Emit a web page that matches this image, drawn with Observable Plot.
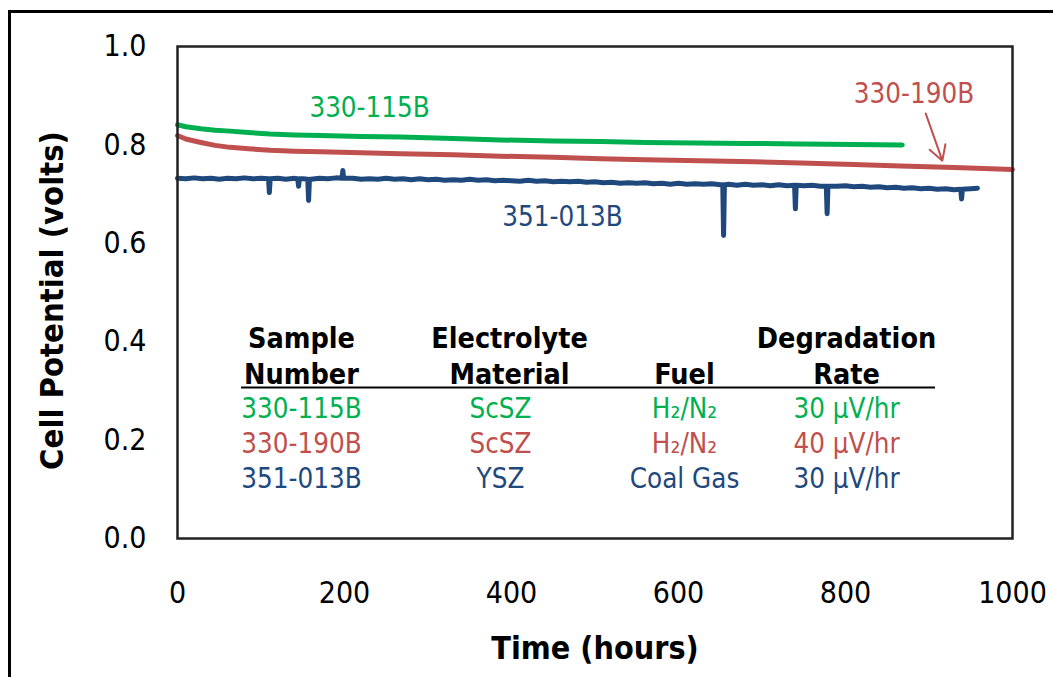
<!DOCTYPE html>
<html><head><meta charset="utf-8">
<script src="https://cdn.jsdelivr.net/npm/d3@7"></script>
<script src="https://cdn.jsdelivr.net/npm/@observablehq/plot@0.6"></script>
<style>
body{margin:0;background:#fff;overflow:hidden;}
#wrap{position:relative;width:1053px;height:677px;}
#border{position:absolute;left:8px;top:10px;width:1100px;height:800px;border:3px solid #000;pointer-events:none;}
</style></head>
<body><div id="wrap"><div id="border"></div></div>
<script>
const yTicks = [0, 0.2, 0.4, 0.6, 0.8, 1.0];
const xTicks = [0, 200, 400, 600, 800, 1000];

const greenHours = [0, 10, 28, 45, 63, 85, 111, 140, 171, 220, 267, 330, 387, 450, 507, 560, 620, 680, 746, 810, 868];
const greenVolts = [0.841, 0.837, 0.833, 0.830, 0.828, 0.825, 0.822, 0.820, 0.819, 0.817, 0.816, 0.813, 0.810, 0.808, 0.807, 0.805, 0.804, 0.803, 0.802, 0.801, 0.800];

const redHours = [0, 10, 28, 45, 63, 85, 111, 140, 171, 220, 267, 330, 387, 450, 507, 560, 626, 690, 746, 810, 866, 930, 1000];
const redVolts = [0.819, 0.812, 0.805, 0.799, 0.795, 0.792, 0.789, 0.787, 0.786, 0.784, 0.782, 0.780, 0.777, 0.775, 0.772, 0.770, 0.768, 0.766, 0.763, 0.760, 0.757, 0.754, 0.750];

const blueHours = [0,10,20,30,40,50,60,70,80,90,100,109,110,111,120,130,140,144,145,146,150,156,157,158,160,170,180,190,197,198,199,
  210,220,230,240,250,260,270,280,290,300,310,320,330,340,350,360,370,380,390,400,410,420,430,440,450,460,470,480,490,500,
  510,520,530,540,550,560,570,580,590,600,610,620,630,640,650,653,654,655,660,670,680,690,700,710,720,730,739,740,741,750,
  760,770,777,778,779,790,800,810,820,830,840,850,860,870,880,890,900,910,920,930,938,939,940,950,958];
const blueVolts = [0.732,0.731,0.733,0.731,0.732,0.730,0.732,0.731,0.733,0.731,0.732,0.731,0.703,0.731,0.732,0.730,0.732,0.731,0.716,0.731,0.731,0.730,0.687,0.730,0.730,0.732,0.731,0.733,0.732,0.748,0.732,
  0.732,0.730,0.731,0.730,0.732,0.730,0.731,0.729,0.731,0.729,0.730,0.728,0.729,0.728,0.730,0.728,0.729,0.727,0.728,0.727,0.726,0.728,0.726,0.727,0.725,0.726,0.725,0.726,0.724,0.725,
  0.723,0.724,0.722,0.723,0.722,0.723,0.721,0.722,0.720,0.722,0.720,0.721,0.720,0.721,0.719,0.719,0.616,0.719,0.720,0.718,0.720,0.718,0.719,0.717,0.719,0.717,0.718,0.670,0.718,0.717,
  0.718,0.716,0.716,0.660,0.716,0.716,0.717,0.715,0.716,0.714,0.715,0.713,0.714,0.712,0.713,0.711,0.712,0.710,0.711,0.709,0.710,0.690,0.710,0.711,0.712];

const sampleIds = ["330-115B", "330-190B", "351-013B"];
const electrolytes = ["ScSZ", "ScSZ", "YSZ"];
const fuels = ["H\u2082/N\u2082", "H\u2082/N\u2082", "Coal Gas"];
const rates = ["30 \u00b5V/hr", "40 \u00b5V/hr", "30 \u00b5V/hr"];
const headers = ["Sample\nNumber", "Electrolyte\nMaterial", "Fuel", "Degradation\nRate"];
const colors = ["#00B050", "#C0504D", "#1F497D"];

const toRows = (hs, vs, id) => hs.map((h, i) => ({hours: h, volts: vs[i], id}));
const series = [
  ...toRows(greenHours, greenVolts, sampleIds[0]),
  ...toRows(redHours, redVolts, sampleIds[1]),
  ...toRows(blueHours, blueVolts, sampleIds[2])
];
const table = sampleIds.map((id, i) => ({id, el: electrolytes[i], fuel: fuels[i], rate: rates[i], row: i}));
const colorOf = d => colors[sampleIds.indexOf(d.id)];
const rowY = d => 0.244 - d.row * 0.0705;
const FONT = "'DejaVu Sans Condensed', 'DejaVu Sans', sans-serif";
const BODY = 27.5;

const chart = Plot.plot({
  width: 1053, height: 677,
  marginLeft: 177, marginRight: 41, marginTop: 46, marginBottom: 139,
  style: {fontFamily: FONT, background: "transparent", color: "#000"},
  x: {domain: [0, 1000]},
  y: {domain: [0, 1]},
  marks: [
    Plot.axisY({ticks: yTicks, tickFormat: d => d.toFixed(1), tickSize: 0, tickPadding: 31, fontSize: 30, label: null}),
    Plot.axisX({ticks: xTicks, tickFormat: d => String(d), tickSize: 0, tickPadding: 43, fontSize: 30, label: null}),
    Plot.line(series, {x: "hours", y: "volts", z: "id", stroke: colorOf, strokeWidth: 5, strokeLinejoin: "round", strokeLinecap: "round"}),
    Plot.frame({stroke: "#222", strokeWidth: 2.5}),
    // series labels
    Plot.text([sampleIds[0]], {x: 230, y: 0.856, text: d => d, fill: colors[0], fontSize: BODY, lineAnchor: "bottom"}),
    Plot.text([sampleIds[1]], {x: 882, y: 0.886, text: d => d, fill: colors[1], fontSize: BODY, lineAnchor: "bottom"}),
    Plot.text([sampleIds[2]], {x: 461, y: 0.636, text: d => d, fill: colors[2], fontSize: BODY, lineAnchor: "bottom"}),
    Plot.arrow([0], {x1: 896, y1: 0.864, x2: 916, y2: 0.768, stroke: colors[1], strokeWidth: 2, headLength: 14, bend: 0}),
    // table header
    Plot.text(headers, {x: [148.5, 397.6, 607.2, 801.2], y: () => 0.315, text: d => d, fontSize: 28.5, fontWeight: "bold", lineAnchor: "bottom", lineHeight: 1.25, fill: "#000"}),
    Plot.ruleY([0.307], {x1: 76.6, x2: 907.8, stroke: "#000", strokeWidth: 2}),
    // table rows
    Plot.text(table, {x: () => 148.5, y: rowY, text: "id", fill: colorOf, fontSize: BODY, lineAnchor: "bottom"}),
    Plot.text(table, {x: () => 386.8, y: rowY, text: "el", fill: colorOf, fontSize: BODY, lineAnchor: "bottom"}),
    Plot.text(table, {x: () => 607.2, y: rowY, text: "fuel", fill: colorOf, fontSize: BODY, lineAnchor: "bottom"}),
    Plot.text(table, {x: () => 801.2, y: rowY, text: "rate", fill: colorOf, fontSize: BODY, lineAnchor: "bottom"}),
    // axis titles
    Plot.text(["Cell Potential (volts)"], {frameAnchor: "left", dx: -125, dy: 8, rotate: -90, textAnchor: "middle", text: d => d, fontSize: 32.5, fontWeight: "bold", fill: "#000"}),
    Plot.text(["Time (hours)"], {frameAnchor: "bottom", dy: 120, text: d => d, fontSize: 32, fontWeight: "bold", lineAnchor: "bottom", fill: "#000"})
  ]
});
document.getElementById("wrap").prepend(chart);
chart.style.position = "absolute"; chart.style.left = "0"; chart.style.top = "0";
</script>
</body></html>
